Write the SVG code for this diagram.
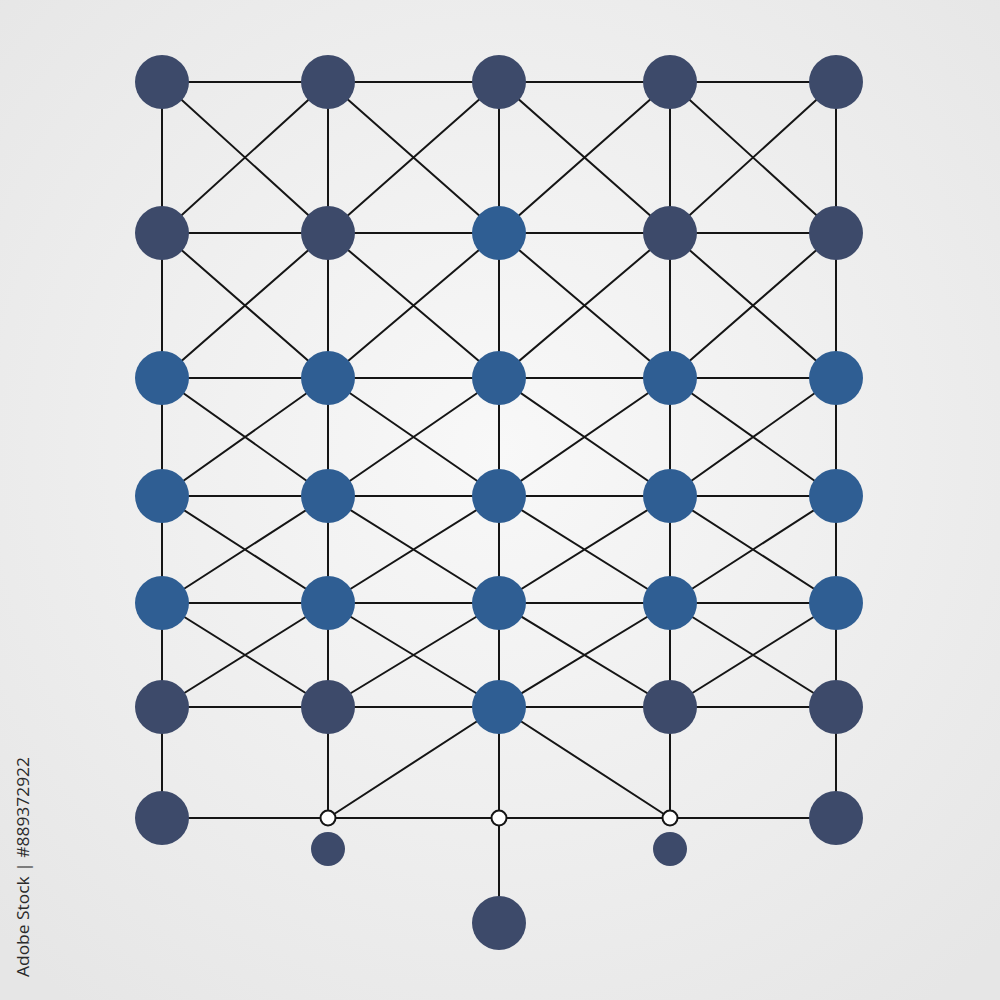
<svg xmlns="http://www.w3.org/2000/svg" width="1000" height="1000" viewBox="0 0 1000 1000">
<defs>
<radialGradient id="bg" cx="0.5" cy="0.45" r="0.7">
<stop offset="0" stop-color="#f8f8f8"/>
<stop offset="1" stop-color="#e6e6e6"/>
</radialGradient>
<style>
.e{stroke:#151515;stroke-width:2;fill:none}
.d{fill:#3d4a6a}
.b{fill:#2f5e93}
.w{fill:#ffffff;stroke:#151515;stroke-width:2}
.t{font-family:"Open Sans","Liberation Sans",sans-serif;font-size:17px;fill:#2a2a2a}
</style>
</defs>
<rect width="1000" height="1000" fill="url(#bg)"/>
<g id="connectors" class="e">
<path d="M162 82H836M162 233H836M162 378H836M162 496H836M162 603H836M162 707H836M162 818H836"/>
<path d="M162 82V818M328 82V818M499 82V922M670 82V818M836 82V818"/>
<path d="M162 82L328 233M328 82L162 233M328 82L499 233M499 82L328 233M499 82L670 233M670 82L499 233M670 82L836 233M836 82L670 233"/>
<path d="M162 233L328 378M328 233L162 378M328 233L499 378M499 233L328 378M499 233L670 378M670 233L499 378M670 233L836 378M836 233L670 378"/>
<path d="M162 378L328 496M328 378L162 496M328 378L499 496M499 378L328 496M499 378L670 496M670 378L499 496M670 378L836 496M836 378L670 496"/>
<path d="M162 496L328 603M328 496L162 603M328 496L499 603M499 496L328 603M499 496L670 603M670 496L499 603M670 496L836 603M836 496L670 603"/>
<path d="M162 603L328 707M328 603L162 707M328 603L499 707M499 603L328 707M499 603L670 707M670 603L499 707M670 603L836 707M836 603L670 707"/>
<path d="M499 707L328 818M499 707L670 818"/>
</g>
<g id="row1">
<circle id="n11" class="d" cx="162" cy="82" r="27"/>
<circle id="n12" class="d" cx="328" cy="82" r="27"/>
<circle id="n13" class="d" cx="499" cy="82" r="27"/>
<circle id="n14" class="d" cx="670" cy="82" r="27"/>
<circle id="n15" class="d" cx="836" cy="82" r="27"/>
</g>
<g id="row2">
<circle id="n21" class="d" cx="162" cy="233" r="27"/>
<circle id="n22" class="d" cx="328" cy="233" r="27"/>
<circle id="n23" class="b" cx="499" cy="233" r="27"/>
<circle id="n24" class="d" cx="670" cy="233" r="27"/>
<circle id="n25" class="d" cx="836" cy="233" r="27"/>
</g>
<g id="row3">
<circle id="n31" class="b" cx="162" cy="378" r="27"/>
<circle id="n32" class="b" cx="328" cy="378" r="27"/>
<circle id="n33" class="b" cx="499" cy="378" r="27"/>
<circle id="n34" class="b" cx="670" cy="378" r="27"/>
<circle id="n35" class="b" cx="836" cy="378" r="27"/>
</g>
<g id="row4">
<circle id="n41" class="b" cx="162" cy="496" r="27"/>
<circle id="n42" class="b" cx="328" cy="496" r="27"/>
<circle id="n43" class="b" cx="499" cy="496" r="27"/>
<circle id="n44" class="b" cx="670" cy="496" r="27"/>
<circle id="n45" class="b" cx="836" cy="496" r="27"/>
</g>
<g id="row5">
<circle id="n51" class="b" cx="162" cy="603" r="27"/>
<circle id="n52" class="b" cx="328" cy="603" r="27"/>
<circle id="n53" class="b" cx="499" cy="603" r="27"/>
<circle id="n54" class="b" cx="670" cy="603" r="27"/>
<circle id="n55" class="b" cx="836" cy="603" r="27"/>
</g>
<g id="row6">
<circle id="n61" class="d" cx="162" cy="707" r="27"/>
<circle id="n62" class="d" cx="328" cy="707" r="27"/>
<circle id="n63" class="b" cx="499" cy="707" r="27"/>
<circle id="n64" class="d" cx="670" cy="707" r="27"/>
<circle id="n65" class="d" cx="836" cy="707" r="27"/>
</g>
<g id="row7">
<circle id="n71" class="d" cx="162" cy="818" r="27"/>
<circle id="j1" class="w" cx="328" cy="818" r="7.5"/>
<circle id="j2" class="w" cx="499" cy="818" r="7.5"/>
<circle id="j3" class="w" cx="670" cy="818" r="7.5"/>
<circle id="n75" class="d" cx="836" cy="818" r="27"/>
</g>
<g id="bottom">
<circle id="s1" class="d" cx="328" cy="849" r="17"/>
<circle id="s2" class="d" cx="670" cy="849" r="17"/>
<circle id="root" class="d" cx="499" cy="923" r="27"/>
</g>
<text class="t" transform="translate(29 977) rotate(-90)" textLength="220" lengthAdjust="spacingAndGlyphs">Adobe Stock | #889372922</text>
</svg>
